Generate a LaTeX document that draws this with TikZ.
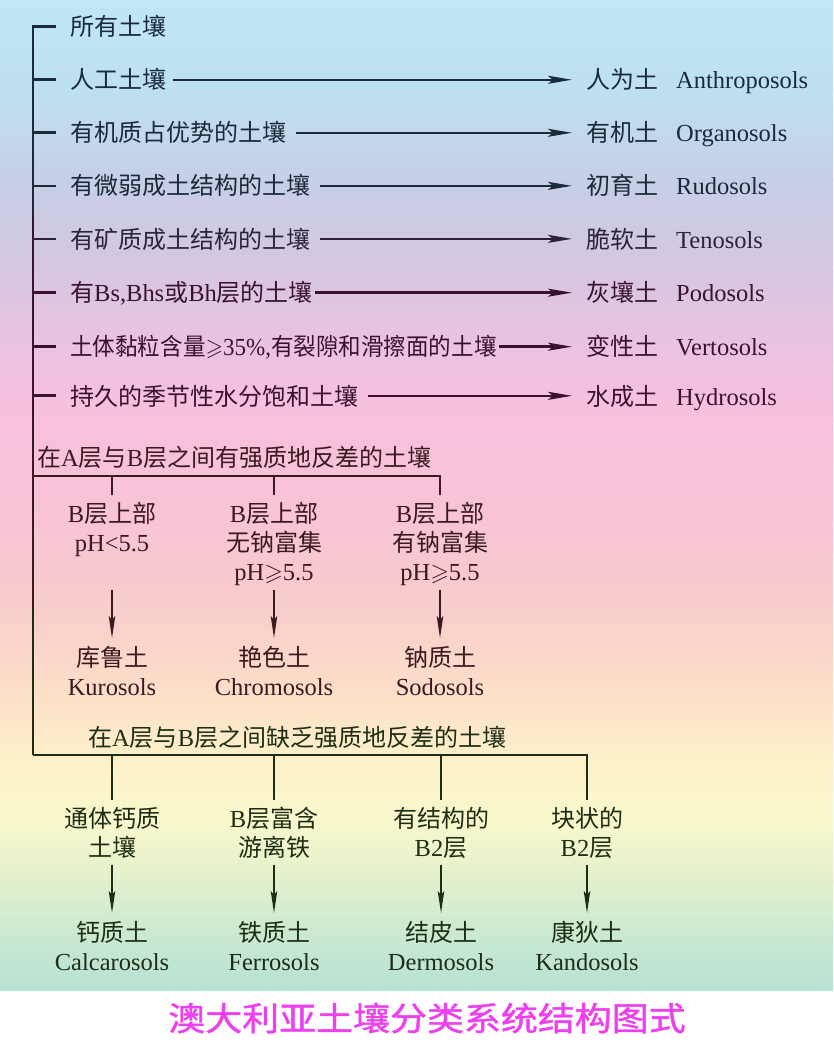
\documentclass[tikz,border=0pt]{standalone}
\usepackage{fontspec}
\usepackage{amssymb}
\usepackage{graphicx}
\setmainfont{Noto Sans CJK SC}
\newfontfamily\en[Scale=1.02]{Liberation Serif}
\newfontfamily\titlefont[FakeBold=1.2]{Noto Sans CJK SC}
\newcommand\enx[1]{{\en #1}}
\usetikzlibrary{arrows.meta}
\definecolor{g0}{HTML}{BFE7F6}
\definecolor{g1}{HTML}{BEE0F0}
\definecolor{g2}{HTML}{C6CFE6}
\definecolor{g3}{HTML}{D6C6E2}
\definecolor{g4}{HTML}{EEC2E0}
\definecolor{g5}{HTML}{F8C0DC}
\definecolor{g6}{HTML}{F8C4D6}
\definecolor{g7}{HTML}{F8CCCC}
\definecolor{g8}{HTML}{FCDCC8}
\definecolor{g9}{HTML}{FDF1C9}
\definecolor{g10}{HTML}{F9F8CC}
\definecolor{g11}{HTML}{E2F0CC}
\definecolor{g12}{HTML}{C8E8D2}
\definecolor{g13}{HTML}{B8E2D4}
\definecolor{cA}{HTML}{1A2A3A}
\definecolor{cB}{HTML}{2E2238}
\definecolor{cC}{HTML}{3A1230}
\definecolor{cD}{HTML}{3A1A20}
\definecolor{cE}{HTML}{1E2E16}
\definecolor{titlec}{HTML}{EE40EE}
\begin{document}
\begin{tikzpicture}[x=1pt,y=-1pt,
  txt/.style={inner sep=0pt, font=\fontsize{24}{29}\selectfont},
  row/.style={txt, anchor=base west},
  col/.style={txt, align=center, anchor=north},
  ln/.style={line width=2.7pt},
  thin ln/.style={line width=1.9pt},
  arr/.style={line width=2.5pt,-{Stealth[length=24pt,width=8pt,inset=5pt]}},
  varr/.style={line width=1.8pt,-{Stealth[length=22pt,width=6.5pt,inset=4pt]}},
]
\useasboundingbox (0,0) rectangle (833,1059);
\fill[white] (0,0) rectangle (833,1059);
\foreach \ya/\yb/\ca/\cb in {0/90/g0/g1, 90/180/g1/g2, 180/270/g2/g3, 270/360/g3/g4, 360/420/g4/g5, 420/520/g5/g6, 520/600/g6/g7, 600/680/g7/g8, 680/760/g8/g9, 760/820/g9/g10, 820/880/g10/g11, 880/940/g11/g12}
  \shade[top color=\ca, bottom color=\cb] (0,\ya) rectangle (833,\yb+1);
\shade[top color=g12, bottom color=g13] (0,940) rectangle (833,990);

% ---------- trunk coordinates ----------
\coordinate (K) at (56,0);
\coordinate (Ta) at (33,215);
\coordinate (Tb) at (33,420);
\coordinate (Tc) at (33,610);
\coordinate (T1) at (33,755);
\coordinate (J2) at (33,476);

% ---------- left rows ----------
\node[row,text=cA] (r0) at (70,36) {所有土壤};
\node[row,text=cA] (r1) at (70,89) {人工土壤};
\node[row,text=cA] (r2) at (70,142) {有机质占优势的土壤};
\node[row,text=cA] (r3) at (70,195) {有微弱成土结构的土壤};
\node[row,text=cB] (r4) at (70,248) {有矿质成土结构的土壤};
\node[row,text=cC] (r5) at (70,301) {有\enx{Bs,Bhs}或\enx{Bh}层的土壤};
\node[row,text=cC] (r6) at (70,355) {\scalebox{0.94}[1]{土体黏粒含量\enx{$\geqslant$35\%,}有裂隙和滑擦面的土壤}};
\node[row,text=cC] (r7) at (70,405) {持久的季节性水分饱和土壤};

% ---------- right labels ----------
\node[row,text=cA] (t1) at (586,89) {人为土};
\node[row,text=cA] (e1) at (676,89) {\enx{Anthroposols}};
\node[row,text=cA] (t2) at (586,142) {有机土};
\node[row,text=cA] (e2) at (676,142) {\enx{Organosols}};
\node[row,text=cA] (t3) at (586,195) {初育土};
\node[row,text=cA] (e3) at (676,195) {\enx{Rudosols}};
\node[row,text=cB] (t4) at (586,248) {脆软土};
\node[row,text=cB] (e4) at (676,248) {\enx{Tenosols}};
\node[row,text=cC] (t5) at (586,301) {灰壤土};
\node[row,text=cC] (e5) at (676,301) {\enx{Podosols}};
\node[row,text=cC] (t6) at (586,355) {变性土};
\node[row,text=cC] (e6) at (676,355) {\enx{Vertosols}};
\node[row,text=cC] (t7) at (586,405) {水成土};
\node[row,text=cC] (e7) at (676,405) {\enx{Hydrosols}};

% ---------- trunk and ticks ----------
\draw[ln,cA] (r0.west -| K) -- (r0.west -| Ta) -- (Ta);
\draw[ln,cC] (Ta) -- (Tb);
\draw[ln,cD] (Tb) -- (Tc);
\draw[ln,cE] (Tc) -- (T1);
\foreach \r/\c in {r1/cA, r2/cA, r3/cA, r4/cB, r5/cC, r6/cC, r7/cC}
  \draw[ln,\c] (\r.west -| Ta) -- (\r.west -| K);

% ---------- horizontal arrows ----------
\foreach \r/\t/\c/\s in {r1/t1/cA/7, r2/t2/cA/10, r3/t3/cA/10, r4/t4/cB/10, r5/t5/cC/2, r6/t6/cC/2, r7/t7/cC/10}
  \draw[arr,\c,shorten <=\s pt,shorten >=14pt] (\r.east) -- (\r.east -| \t.west);

% ---------- section 2 ----------
\node[row,text=cD] (h2) at (37,466) {在\enx{A}层与\enx{B}层之间有强质地反差的土壤};
\node[col,text=cD] (a1) at (112,502) {\enx{B}层上部\\\enx{pH<5.5}};
\node[col,text=cD] (a2) at (274,502) {\enx{B}层上部\\无钠富集\\\enx{pH$\geqslant$5.5}};
\node[col,text=cD] (a3) at (440,502) {\enx{B}层上部\\有钠富集\\\enx{pH$\geqslant$5.5}};
\node[col,text=cD] (k1) at (112,646) {库鲁土\\\enx{Kurosols}};
\node[col,text=cD] (k2) at (274,646) {艳色土\\\enx{Chromosols}};
\node[col,text=cD] (k3) at (440,646) {钠质土\\\enx{Sodosols}};
\draw[thin ln,cD,shorten >=7pt] (J2) -- (J2 -| a3) -- (a3.north);
\draw[thin ln,cD,shorten >=7pt] (J2 -| a1) -- (a1.north);
\draw[thin ln,cD,shorten >=7pt] (J2 -| a2) -- (a2.north);
\draw[varr,cD,shorten <=4pt,shorten >=8pt] (a1.south |- a2.south) -- (k1.north);
\draw[varr,cD,shorten <=4pt,shorten >=8pt] (a2.south) -- (k2.north);
\draw[varr,cD,shorten <=4pt,shorten >=8pt] (a3.south) -- (k3.north);

% ---------- section 3 ----------
\node[row,text=cE] (h3) at (88,746) {在\enx{A}层与\enx{B}层之间缺乏强质地反差的土壤};
\node[col,text=cE] (b1) at (112,807) {通体钙质\\土壤};
\node[col,text=cE] (b2) at (274,807) {\enx{B}层富含\\游离铁};
\node[col,text=cE] (b3) at (441,807) {有结构的\\\enx{B2}层};
\node[col,text=cE] (b4) at (587,807) {块状的\\\enx{B2}层};
\node[col,text=cE] (m1) at (112,921) {钙质土\\\enx{Calcarosols}};
\node[col,text=cE] (m2) at (274,921) {铁质土\\\enx{Ferrosols}};
\node[col,text=cE] (m3) at (441,921) {结皮土\\\enx{Dermosols}};
\node[col,text=cE] (m4) at (587,921) {康狄土\\\enx{Kandosols}};
\draw[thin ln,cE,shorten >=7pt] (T1) -- (T1 -| b4) -- (b4.north);
\foreach \b in {b1,b2,b3}
  \draw[thin ln,cE,shorten >=7pt] (T1 -| \b) -- (\b.north);
\draw[varr,cE,shorten <=6pt,shorten >=8pt] (b1.south |- b2.south) -- (m1.north);
\draw[varr,cE,shorten <=6pt,shorten >=8pt] (b2.south) -- (m2.north);
\draw[varr,cE,shorten <=6pt,shorten >=8pt] (b3.south |- b2.south) -- (m3.north);
\draw[varr,cE,shorten <=6pt,shorten >=8pt] (b4.south |- b2.south) -- (m4.north);

% ---------- title ----------
\node[inner sep=0pt,text=titlec,font=\titlefont\fontsize{33}{36}\selectfont] (title) at (427,1018) {\scalebox{1.12}[1]{澳大利亚土壤分类系统结构图式}};
\end{tikzpicture}
\end{document}
